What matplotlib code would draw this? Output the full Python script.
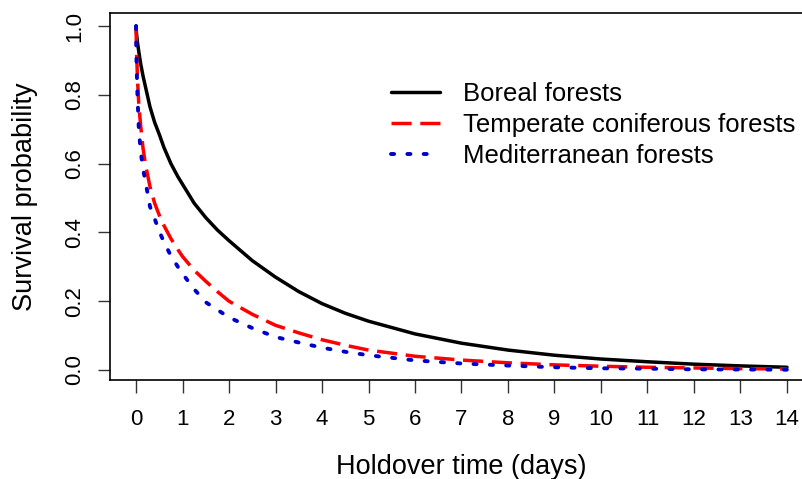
import numpy as np
import matplotlib
matplotlib.use("Agg")
import matplotlib.pyplot as plt

plt.rcParams['font.family'] = ['Liberation Sans', 'DejaVu Sans']

# values (days -> survival probability)
days = [0, 0.01, 0.03, 0.06, 0.1, 0.15, 0.2, 0.3, 0.4, 0.5, 0.6, 0.75, 0.9,
        1.0, 1.25, 1.5, 1.75, 2, 2.5, 3, 3.5, 4, 4.5, 5, 6, 7, 8, 9, 10,
        11, 12, 13, 14]
boreal = [1.0, 0.978, 0.953, 0.925, 0.89, 0.855, 0.825, 0.765, 0.72, 0.685,
          0.647, 0.60, 0.562, 0.54, 0.485, 0.443, 0.407, 0.376, 0.318, 0.27,
          0.228, 0.193, 0.165, 0.142, 0.105, 0.078, 0.058, 0.043, 0.032,
          0.024, 0.017, 0.012, 0.008]
temperate = [1.0, 0.93, 0.85, 0.77, 0.71, 0.645, 0.60, 0.533, 0.485, 0.45,
             0.42, 0.382, 0.35, 0.33, 0.29, 0.258, 0.228, 0.20, 0.162, 0.13,
             0.108, 0.088, 0.072, 0.058, 0.040, 0.029, 0.021, 0.015, 0.011,
             0.008, 0.006, 0.004, 0.003]
mediterranean = [1.0, 0.90, 0.80, 0.70, 0.635, 0.585, 0.55, 0.475, 0.44,
                 0.403, 0.372, 0.332, 0.30, 0.28, 0.235, 0.197, 0.175, 0.153,
                 0.122, 0.096, 0.08, 0.065, 0.053, 0.043, 0.028, 0.019, 0.013,
                 0.008, 0.005, 0.004, 0.002, 0.0015, 0.001]
labels = ["Boreal forests", "Temperate coniferous forests", "Mediterranean forests"]

fig = plt.figure(figsize=(8.03, 4.79), dpi=100)
W, H = 803, 479
# axes box in pixels: left 110, right 813 (cut off), top 12.7, bottom 380
ax = fig.add_axes([110 / W, 1 - 380 / H, 703 / W, (380 - 12.7) / H])

lw = 2.5
ax.plot(days, boreal, color='black', lw=lw, solid_capstyle='round',
        solid_joinstyle='round', label=labels[0])
ax.plot(days, temperate, color='#ff0000', lw=lw, dashes=(5.8, 2.5),
        dash_capstyle='butt', label=labels[1])
ax.plot(days, mediterranean, color='#0000cd', lw=lw + 0.3, dashes=(0.8, 3.4),
        dash_capstyle='round', label=labels[2])

ax.set_xlim(-0.56, 14.56)
ax.set_ylim(-0.029, 1.0387)
ax.set_xticks(range(0, 15))
ax.set_yticks([0.0, 0.2, 0.4, 0.6, 0.8, 1.0])
ax.set_yticklabels(["0.0", "0.2", "0.4", "0.6", "0.8", "1.0"], rotation=90, va='center')
ax.tick_params(direction='out', length=9, width=1, colors='#333333',
               labelcolor='black', labelsize=16)
ax.tick_params(axis='x', pad=12)
ax.tick_params(axis='y', pad=9)
for s in ax.spines.values():
    s.set_linewidth(1.2)
    s.set_color('black')

ax.set_xlabel("Holdover time (days)", fontsize=19.5, labelpad=17)
ax.set_ylabel("Survival probability", fontsize=19.5, labelpad=19)

ax.legend(loc='upper left', bbox_to_anchor=(391 / W, 1 - 82 / H),
          bbox_transform=fig.transFigure, frameon=False, fontsize=18.5,
          handlelength=1.9, handletextpad=0.9, labelspacing=0.28,
          borderaxespad=0, borderpad=0)

fig.savefig("out.png", dpi=100)
